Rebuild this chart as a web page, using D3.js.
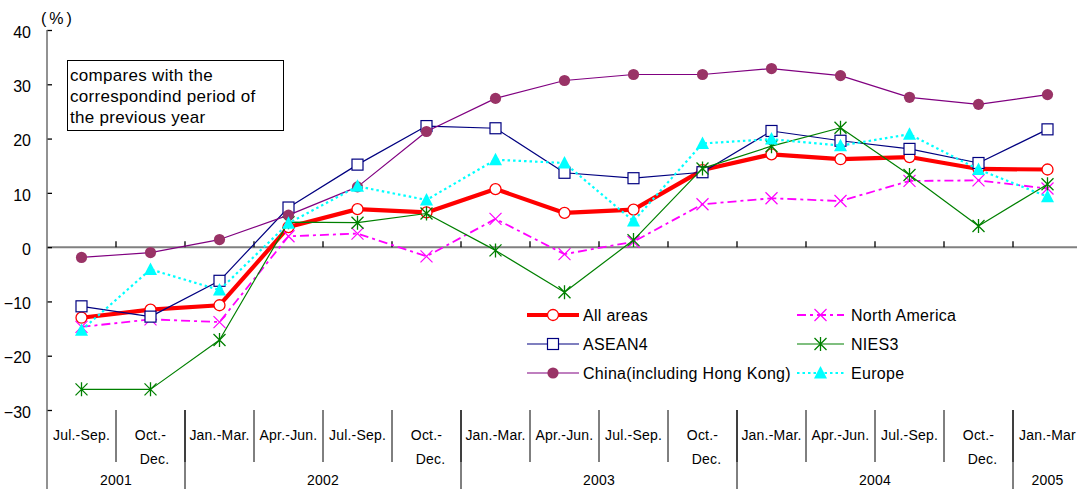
<!DOCTYPE html>
<html>
<head>
<meta charset="utf-8">
<script src="https://cdn.jsdelivr.net/npm/d3@7"></script>
<style>
  html, body { margin: 0; padding: 0; background: #fff; }
  svg { display: block; font-family: "Liberation Sans", Arial, sans-serif; }
</style>
</head>
<body>
<svg id="chart" width="1077" height="489"></svg>
<script>
// Quarterly periods (x categories) and year groups
const quarters = ["Jul.-Sep.", "Oct.-|Dec.", "Jan.-Mar.", "Apr.-Jun.", "Jul.-Sep.", "Oct.-|Dec.",
  "Jan.-Mar.", "Apr.-Jun.", "Jul.-Sep.", "Oct.-|Dec.", "Jan.-Mar.", "Apr.-Jun.", "Jul.-Sep.", "Oct.-|Dec.", "Jan.-Mar"];
const years = ["2001", "2002", "2003", "2004", "2005"];
const yearSpans = [2, 4, 4, 4, 1];
const yTicks = [-30, -20, -10, 0, 10, 20, 30, 40];

// Year-on-year growth (%) by region
const allAreas     = [-13.0, -11.5, -10.7, 3.7, 7.0, 6.4, 10.7, 6.3, 6.9, 14.2, 17.1, 16.2, 16.6, 14.4, 14.3];
const northAmerica = [-14.7, -13.3, -13.8, 2.0, 2.5, -1.7, 5.2, -1.3, 1.0, 7.9, 9.0, 8.5, 12.2, 12.3, 10.8];
const asean4       = [-10.9, -12.8, -6.2, 7.3, 15.2, 22.3, 21.9, 13.7, 12.7, 13.8, 21.4, 19.6, 18.1, 15.5, 21.7];
const nies3        = [-26.2, -26.2, -17.1, 4.6, 4.5, 6.2, -0.6, -8.3, 1.3, 14.5, 18.6, 22.0, 13.3, 3.9, 11.6];
const china        = [-1.9, -1.0, 1.4, 5.9, 11.1, 21.3, 27.4, 30.7, 31.8, 31.8, 32.9, 31.6, 27.6, 26.3, 28.1];
const europe       = [-15.3, -4.1, -7.9, 4.4, 11.2, 8.7, 16.1, 15.5, 4.8, 19.1, 19.9, 18.7, 20.8, 14.3, 9.3];

const seriesNames = ["All areas", "North America", "ASEAN4", "NIES3", "China(including Hong Kong)", "Europe"];
const seriesValues = [allAreas, northAmerica, asean4, nies3, china, europe];

const styles = {
  "All areas":   { stroke: "#FF0000", width: 4.2, dash: null, marker: "circleOpen", color: "#FF0000", fill: "#fff" },
  "North America": { stroke: "#FF00FF", width: 1.8, dash: "9,4,3,4", marker: "cross", color: "#FF00FF" },
  "ASEAN4":      { stroke: "#000080", width: 1.2, dash: null, marker: "square", color: "#000080", fill: "#fff" },
  "NIES3":       { stroke: "#008000", width: 1.2, dash: null, marker: "star", color: "#008000" },
  "China(including Hong Kong)": { stroke: "#800080", width: 1.2, dash: null, marker: "dot", color: "#993366", fill: "#993366" },
  "Europe":      { stroke: "#00FFFF", width: 2.2, dash: "2.5,3", marker: "triangle", color: "#00FFFF", fill: "#00FFFF" }
};

const svg = d3.select("#chart");
const plotLeft = 47, plotRight = 1082, plotTop = 30, plotBottom = 410;

const x = d3.scaleBand().domain(d3.range(quarters.length)).range([plotLeft, plotRight]).padding(0);
const y = d3.scaleLinear().domain([-30, 40]).range([plotBottom, plotTop]);
const cx = i => x(i) + x.bandwidth() / 2;

// Horizontal zero line with upward category ticks
svg.append("line").attr("x1", plotLeft).attr("x2", 1077).attr("y1", y(0)).attr("y2", y(0))
  .attr("stroke", "#808080").attr("stroke-width", 2);
svg.append("g").selectAll("line").data(d3.range(1, quarters.length)).join("line")
  .attr("x1", i => x(i)).attr("x2", i => x(i))
  .attr("y1", y(0) - 6).attr("y2", y(0))
  .attr("stroke", "#000").attr("stroke-width", 1.3);

// Vertical value axis
const yAxis = d3.axisLeft(y).tickValues(yTicks).tickSize(-5).tickPadding(16).tickFormat(d3.format("d"));
const gy = svg.append("g").attr("transform", `translate(${plotLeft},0)`).call(yAxis);
gy.select(".domain").remove();
gy.selectAll(".tick line").attr("stroke", "#000").attr("stroke-width", 1.3);
gy.selectAll(".tick text").attr("font-size", 16).attr("fill", "#000")
  .attr("font-family", "Liberation Sans, Arial, sans-serif").attr("dy", "0.45em");
svg.append("line").attr("x1", plotLeft).attr("x2", plotLeft).attr("y1", plotTop).attr("y2", 489)
  .attr("stroke", "#6e6e6e").attr("stroke-width", 1.5);

svg.append("text").attr("x", 41).attr("y", 24).attr("font-size", 16).attr("letter-spacing", 3)
  .text("(%)");

// Category table below the plot
const tbl = svg.append("g").attr("letter-spacing", 0.2);
d3.range(1, quarters.length).forEach(i => {
  tbl.append("line").attr("x1", x(i)).attr("x2", x(i)).attr("y1", plotBottom).attr("y2", 462)
    .attr("stroke", "#000").attr("stroke-width", 1);
});
let acc = 0;
years.forEach((yr, k) => {
  const start = acc, end = acc + yearSpans[k];
  if (start > 0) {
    tbl.append("line").attr("x1", x(start)).attr("x2", x(start)).attr("y1", plotBottom).attr("y2", 489)
      .attr("stroke", "#000").attr("stroke-width", 1);
  }
  const mid = (x(start) + (end < quarters.length ? x(end) : plotRight)) / 2;
  tbl.append("text").attr("x", yr === "2005" ? cx(start) : mid).attr("y", 485)
    .attr("text-anchor", "middle").attr("font-size", 14).text(yr);
  acc = end;
});
quarters.forEach((q, i) => {
  const parts = q.split("|");
  tbl.append("text").attr("x", cx(i)).attr("y", 440).attr("text-anchor", "middle")
    .attr("font-size", 14).text(parts[0]);
  if (parts.length > 1) {
    tbl.append("text").attr("x", cx(i) + 4).attr("y", 464).attr("text-anchor", "middle")
      .attr("font-size", 14).text(parts[1]);
  }
});

// Marker drawing
function drawMarker(g, type, st, px, py) {
  if (type === "circleOpen") {
    g.append("circle").attr("cx", px).attr("cy", py).attr("r", 5.5)
      .attr("fill", "#fff").attr("stroke", st.color).attr("stroke-width", 1.3);
  } else if (type === "dot") {
    g.append("circle").attr("cx", px).attr("cy", py).attr("r", 5.6).attr("fill", st.fill);
  } else if (type === "square") {
    g.append("rect").attr("x", px - 5.5).attr("y", py - 5.5).attr("width", 11).attr("height", 11)
      .attr("fill", "#fff").attr("stroke", st.color).attr("stroke-width", 1.2);
  } else if (type === "triangle") {
    g.append("path").attr("d", `M${px},${py - 7}L${px + 6.5},${py + 5.5}L${px - 6.5},${py + 5.5}Z`)
      .attr("fill", st.fill);
  } else if (type === "cross") {
    g.append("path").attr("d", `M${px - 6},${py - 6}L${px + 6},${py + 6}M${px - 6},${py + 6}L${px + 6},${py - 6}`)
      .attr("stroke", st.color).attr("stroke-width", 1.2);
  } else if (type === "star") {
    g.append("path").attr("d", `M${px - 6},${py - 6}L${px + 6},${py + 6}M${px - 6},${py + 6}L${px + 6},${py - 6}M${px},${py - 7}L${px},${py + 7}`)
      .attr("stroke", st.color).attr("stroke-width", 1.3);
  }
}

const line = d3.line().x((d, i) => cx(i)).y(d => y(d));

// Series
seriesNames.forEach((name, s) => {
  const st = styles[name];
  const g = svg.append("g");
  g.append("path").datum(seriesValues[s]).attr("d", line)
    .attr("fill", "none").attr("stroke", st.stroke).attr("stroke-width", st.width)
    .attr("stroke-dasharray", st.dash).attr("stroke-linejoin", "round");
  seriesValues[s].forEach((v, i) => drawMarker(g, st.marker, st, cx(i), y(v)));
});

// Legend
const legendPos = {
  "All areas": [527, 315], "North America": [797, 315],
  "ASEAN4": [527, 344], "NIES3": [797, 344],
  "China(including Hong Kong)": [527, 373], "Europe": [797, 373]
};
seriesNames.forEach(name => {
  const st = styles[name];
  const [lx, ly] = legendPos[name];
  const len = lx < 700 ? 52 : 47;
  const g = svg.append("g");
  g.append("line").attr("x1", lx).attr("x2", lx + len).attr("y1", ly).attr("y2", ly)
    .attr("stroke", st.stroke).attr("stroke-width", st.width).attr("stroke-dasharray", st.dash);
  drawMarker(g, st.marker, st, lx + len / 2, ly);
  g.append("text").attr("x", lx + len + 4 + (lx < 700 ? 0 : 3)).attr("y", ly + 6)
    .attr("font-size", 16).attr("letter-spacing", 0.3).text(name);
});

// Note box
const note = svg.append("g");
note.append("rect").attr("x", 67.5).attr("y", 60.5).attr("width", 216).attr("height", 70)
  .attr("fill", "#fff").attr("stroke", "#000").attr("stroke-width", 1);
["compares with the", "correspondind period of", "the previous year"].forEach((t, k) => {
  note.append("text").attr("x", 70).attr("y", 81 + k * 21).attr("font-size", 17)
    .attr("letter-spacing", 0.3).text(t);
});
</script>
</body>
</html>
